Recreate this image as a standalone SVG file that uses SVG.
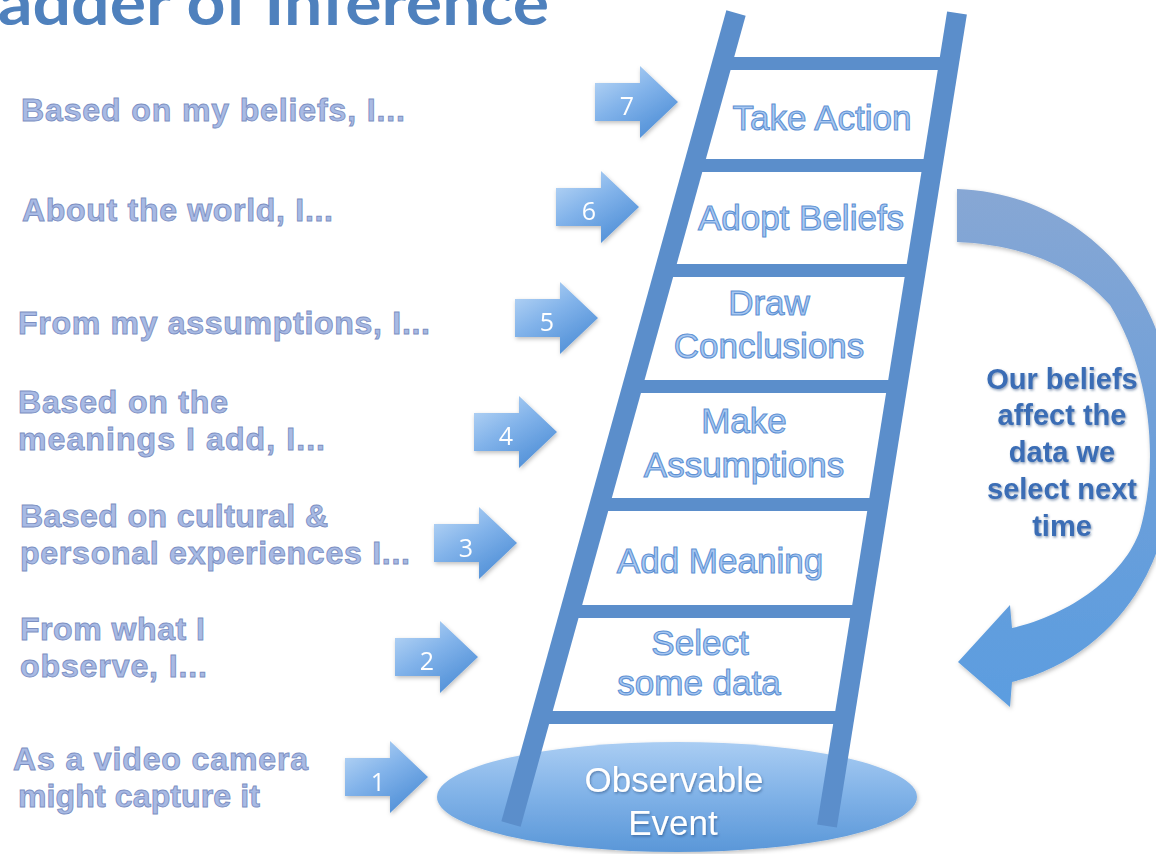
<svg xmlns="http://www.w3.org/2000/svg" width="1156" height="854" viewBox="0 0 1156 854">
<defs>
<style>
.left{font-family:"Liberation Sans",Arial,sans-serif;font-weight:bold;font-size:32px;fill:#a8bae4;stroke:#7c8fc2;stroke-width:0.9;}
.step{font-family:"Liberation Sans",Arial,sans-serif;font-size:35px;fill:#a9c8f1;stroke:#5f92d4;stroke-width:1.1;text-anchor:middle;}
.num{font-family:"Open Sans",sans-serif;font-size:25px;fill:#ffffff;text-anchor:middle;}
.rail{stroke:#5b8ecb;stroke-width:20;stroke-linecap:butt;fill:none;}
.rung{fill:#5b8ecb;}
.note{font-family:"Liberation Sans",Arial,sans-serif;font-weight:bold;font-size:29px;fill:#3a6db5;text-anchor:middle;}
.event{font-family:"Liberation Sans",Arial,sans-serif;font-size:35px;fill:#ffffff;text-anchor:middle;}
</style>
<linearGradient id="gArrow" x1="0" y1="0" x2="0.7" y2="1">
<stop offset="0" stop-color="#c0dbf7"/>
<stop offset="0.5" stop-color="#82b3ea"/>
<stop offset="1" stop-color="#4f8fd7"/>
</linearGradient>
<linearGradient id="gCurve" gradientUnits="userSpaceOnUse" x1="0" y1="190" x2="0" y2="710">
<stop offset="0" stop-color="#87a7d4"/>
<stop offset="0.5" stop-color="#6d9fd9"/>
<stop offset="1" stop-color="#5b9de0"/>
</linearGradient>
<linearGradient id="gEll" x1="0" y1="0" x2="0" y2="1">
<stop offset="0" stop-color="#aacdf3"/>
<stop offset="0.5" stop-color="#7fb1e7"/>
<stop offset="1" stop-color="#5a97d8"/>
</linearGradient>
<filter id="sh" x="-20%" y="-20%" width="140%" height="140%">
<feDropShadow dx="1" dy="2" stdDeviation="2" flood-color="#000" flood-opacity="0.25"/>
</filter>
<filter id="tsh" x="-10%" y="-20%" width="120%" height="140%">
<feDropShadow dx="1" dy="1.5" stdDeviation="1.2" flood-color="#1d3f73" flood-opacity="0.5"/>
</filter>
<path id="blk" d="M-83,-19 L-38,-19 L-38,-36 L0,0 L-38,36 L-38,19 L-83,19 Z"/>
</defs>
<rect width="1156" height="854" fill="#ffffff"/>

<g id="title">
<text x="-2" y="25" font-family="Lato,'Open Sans',sans-serif" font-weight="bold" font-size="62" fill="#4f81bd" textLength="551" lengthAdjust="spacingAndGlyphs">adder of Inference</text>
</g>

<g id="base-event">
<ellipse cx="677" cy="797" rx="240" ry="55" fill="url(#gEll)" filter="url(#sh)"/>
</g>

<g id="ladder">
<line class="rail" x1="736" y1="13" x2="511" y2="824"/>
<line class="rail" x1="957" y1="13" x2="827" y2="826"/>
<rect class="rung" x="722" y="57" width="227" height="13"/>
<rect class="rung" x="694" y="159" width="239" height="13"/>
<rect class="rung" x="665" y="264" width="251" height="13"/>
<rect class="rung" x="633" y="380" width="264" height="13"/>
<rect class="rung" x="600" y="498" width="278" height="13"/>
<rect class="rung" x="570" y="605" width="291" height="13"/>
<rect class="rung" x="541" y="711" width="303" height="13"/>
</g>

<g id="event-label" filter="url(#tsh)">
<text class="event" x="674" y="792">Observable</text>
<text class="event" x="673" y="835">Event</text>
</g>

<g id="step-labels">
<text class="step" x="822" y="130">Take Action</text>
<text class="step" x="801" y="230">Adopt Beliefs</text>
<text class="step" x="769" y="315">Draw</text>
<text class="step" x="769" y="358">Conclusions</text>
<text class="step" x="744" y="433">Make</text>
<text class="step" x="744" y="477">Assumptions</text>
<text class="step" x="720" y="573">Add Meaning</text>
<text class="step" x="700" y="655">Select</text>
<text class="step" x="699" y="695">some data</text>
</g>

<g id="connectors">
<g id="arrow7" filter="url(#sh)"><use href="#blk" transform="translate(678,102)" fill="url(#gArrow)"/><text class="num" x="627" y="115">7</text></g>
<g id="arrow6" filter="url(#sh)"><use href="#blk" transform="translate(639,207)" fill="url(#gArrow)"/><text class="num" x="589" y="220">6</text></g>
<g id="arrow5" filter="url(#sh)"><use href="#blk" transform="translate(598,318)" fill="url(#gArrow)"/><text class="num" x="547" y="331">5</text></g>
<g id="arrow4" filter="url(#sh)"><use href="#blk" transform="translate(557,432)" fill="url(#gArrow)"/><text class="num" x="506" y="445">4</text></g>
<g id="arrow3" filter="url(#sh)"><use href="#blk" transform="translate(517,543)" fill="url(#gArrow)"/><text class="num" x="466" y="557">3</text></g>
<g id="arrow2" filter="url(#sh)"><use href="#blk" transform="translate(478,657)" fill="url(#gArrow)"/><text class="num" x="427" y="670">2</text></g>
<g id="arrow1" filter="url(#sh)"><use href="#blk" transform="translate(428,777)" fill="url(#gArrow)"/><text class="num" x="378" y="791">1</text></g>
<g id="feedback-arrow" filter="url(#sh)">
<path d="M957,189 C1050,192 1130,250 1160,340 C1185,420 1180,520 1140,587 C1115,630 1070,668 1012,682 L1010,707 L958,662 L1010,605 L1012,628 C1070,615 1125,575 1140,530 C1160,460 1150,370 1110,305 C1070,260 1010,244 957,242 Z" fill="url(#gCurve)"/>
</g>
</g>

<g id="feedback-note" filter="url(#tsh)">
<text class="note" x="1062" y="389">Our beliefs</text>
<text class="note" x="1062" y="425">affect the</text>
<text class="note" x="1062" y="462">data we</text>
<text class="note" x="1062" y="499">select next</text>
<text class="note" x="1062" y="536">time</text>
</g>

<g id="left-labels">
<text class="left" x="21" y="121" textLength="384" lengthAdjust="spacing">Based on my beliefs, I...</text>
<text class="left" x="22" y="221" textLength="311" lengthAdjust="spacing">About the world, I...</text>
<text class="left" x="18" y="334" textLength="412" lengthAdjust="spacing">From my assumptions, I...</text>
<text class="left" x="18" y="413" textLength="210" lengthAdjust="spacing">Based on the</text>
<text class="left" x="18" y="450" textLength="307" lengthAdjust="spacing">meanings I add, I...</text>
<text class="left" x="20" y="527" textLength="308" lengthAdjust="spacing">Based on cultural &amp;</text>
<text class="left" x="20" y="564" textLength="390" lengthAdjust="spacing">personal experiences I...</text>
<text class="left" x="20" y="640" textLength="185" lengthAdjust="spacing">From what I</text>
<text class="left" x="20" y="677" textLength="187" lengthAdjust="spacing">observe, I...</text>
<text class="left" x="13" y="770" textLength="295" lengthAdjust="spacing">As a video camera</text>
<text class="left" x="18" y="807" textLength="242" lengthAdjust="spacing">might capture it</text>
</g>
</svg>
